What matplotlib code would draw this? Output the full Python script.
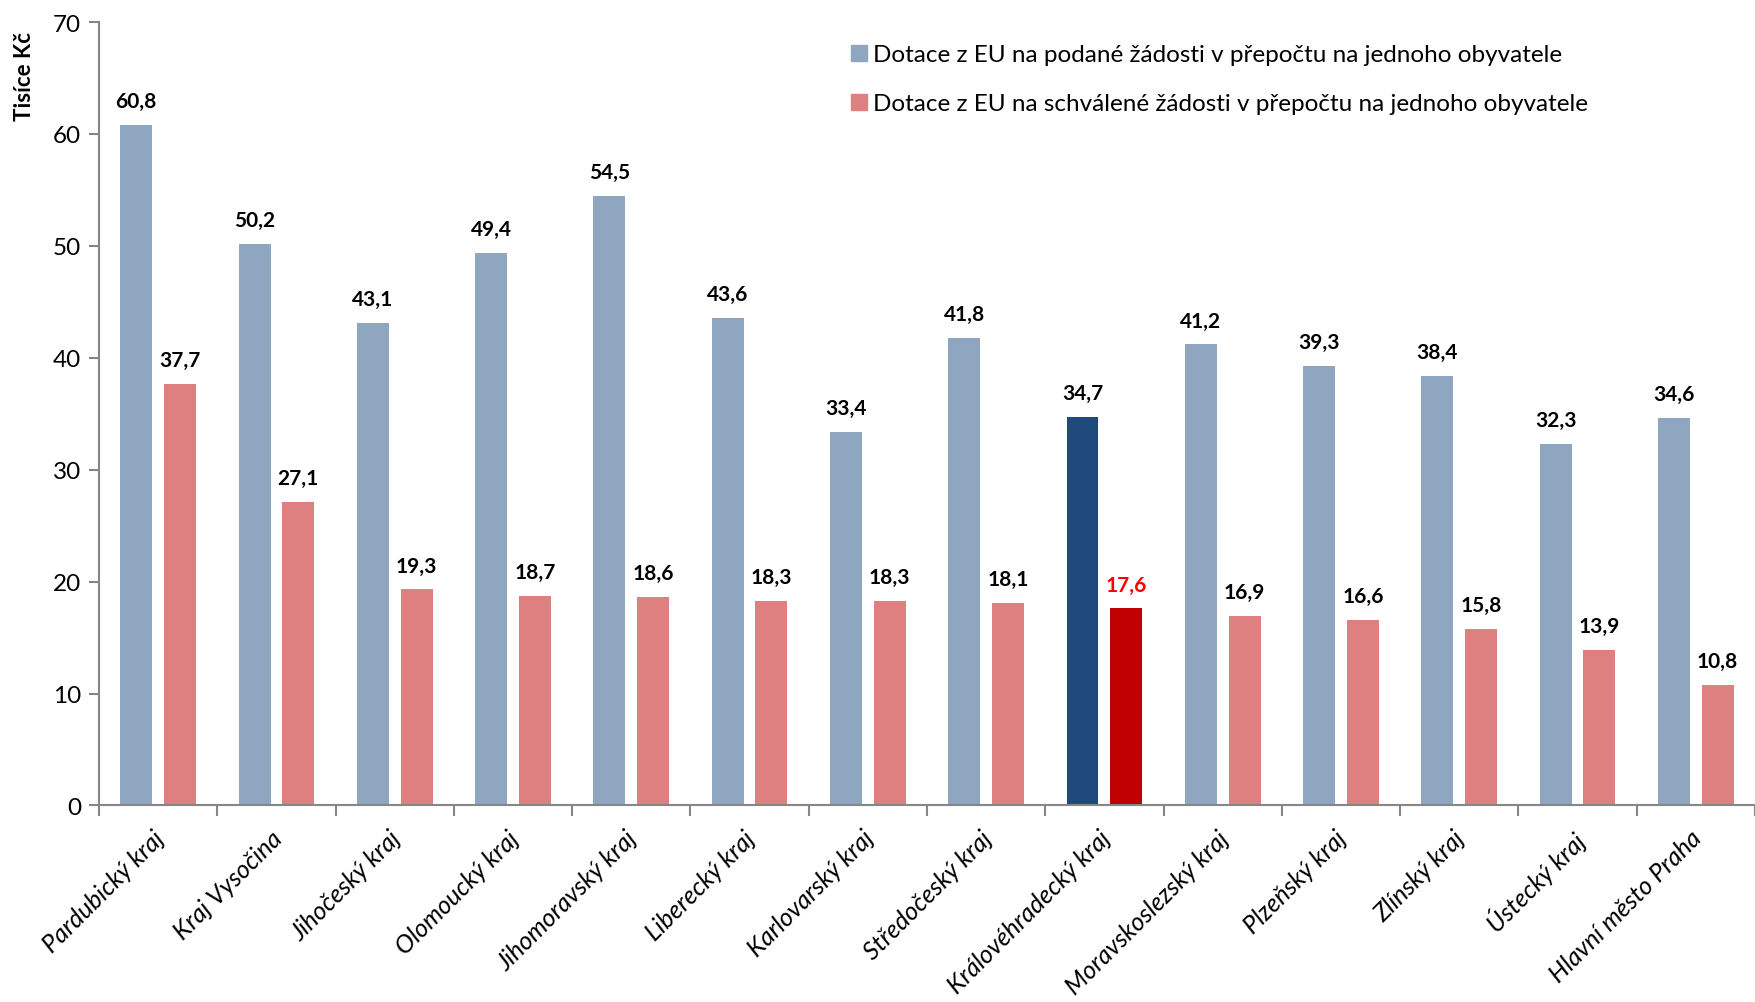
import numpy as np
import matplotlib
matplotlib.use('Agg')
import matplotlib.pyplot as plt
import matplotlib.transforms as mtransforms
from matplotlib.lines import Line2D

# data
regions = ['Pardubický kraj', 'Kraj Vysočina', 'Jihočeský kraj', 'Olomoucký kraj',
           'Jihomoravský kraj', 'Liberecký kraj', 'Karlovarský kraj', 'Středočeský kraj',
           'Královéhradecký kraj', 'Moravskoslezský kraj', 'Plzeňský kraj', 'Zlínský kraj',
           'Ústecký kraj', 'Hlavní město Praha']
podane = [60.8, 50.2, 43.1, 49.4, 54.5, 43.6, 33.4, 41.8, 34.7, 41.2, 39.3, 38.4, 32.3, 34.6]
schvalene = [37.7, 27.1, 19.3, 18.7, 18.6, 18.3, 18.3, 18.1, 17.6, 16.9, 16.6, 15.8, 13.9, 10.8]
highlight = 'Královéhradecký kraj'

label_podane = 'Dotace z EU na podané žádosti v přepočtu na jednoho obyvatele'
label_schvalene = 'Dotace z EU na schválené žádosti v přepočtu na jednoho obyvatele'

plt.rcParams['font.family'] = ['Lato', 'DejaVu Sans']

col_blue = '#8FA6C1'
col_red = '#DF8080'
col_blue_hl = '#1F497D'
col_red_hl = '#C00000'
axis_col = '#868686'

fig = plt.figure(figsize=(17.56, 10.03), dpi=100)
ax = fig.add_axes([0.0564, 0.196, 0.943, 0.781])

x = np.arange(len(regions))
w = 0.27
off = 0.185
blue_cols = [col_blue_hl if r == highlight else col_blue for r in regions]
red_cols = [col_red_hl if r == highlight else col_red for r in regions]

b1 = ax.bar(x - off, podane, w, color=blue_cols)
b2 = ax.bar(x + off, schvalene, w, color=red_cols)

for bars, vals in ((b1, podane), (b2, schvalene)):
	for i, (bar, v) in enumerate(zip(bars, vals)):
		c = 'black'
		if regions[i] == highlight and bars is b2:
			c = '#FF0000'
		ax.annotate(('%.1f' % v).replace('.', ','),
			(bar.get_x() + bar.get_width() / 2, v),
			xytext=(0, 10), textcoords='offset points',
			ha='center', va='bottom', fontsize=15, fontweight='bold', color=c)

ax.set_xlim(-0.5, len(regions) - 0.5)
ax.set_ylim(0, 70)
ax.set_yticks(np.arange(0, 71, 10))
ax.tick_params(axis='y', labelsize=17.5, length=7, color=axis_col, width=1.5, pad=6)

# ticks between categories, labels at centres
ax.set_xticks(np.arange(len(regions) + 1) - 0.5)
ax.set_xticklabels([])
ax.tick_params(axis='x', which='major', length=8, color=axis_col, width=1.5)
ax.set_xticks(x, minor=True)
ax.set_xticklabels(regions, minor=True, rotation=45, ha='right', va='top',
	rotation_mode='anchor', fontsize=18, fontstyle='italic')
ax.tick_params(axis='x', which='minor', length=0, pad=22)
shift = mtransforms.ScaledTranslation(-0.06, 0.1, fig.dpi_scale_trans)
for lab in ax.get_xticklabels(minor=True):
	lab.set_transform(lab.get_transform() + shift)

for s in ('top', 'right'):
	ax.spines[s].set_visible(False)
for s in ('left', 'bottom'):
	ax.spines[s].set_color(axis_col)
	ax.spines[s].set_linewidth(1.5)

fig.text(0.014, 0.968, 'Tisíce Kč', rotation=90, ha='center', va='top',
	fontsize=16, fontweight='bold')

handles = [Line2D([], [], marker='s', linestyle='none', markersize=12, color=col_blue),
           Line2D([], [], marker='s', linestyle='none', markersize=12, color=col_red)]
ax.legend(handles, [label_podane, label_schvalene], loc='upper left',
	bbox_to_anchor=(0.478, 0.967), bbox_transform=fig.transFigure,
	frameon=False, fontsize=17.5, handlelength=0.6, handletextpad=0.3,
	labelspacing=1.15, borderpad=0)

fig.savefig('out.png', dpi=100)
